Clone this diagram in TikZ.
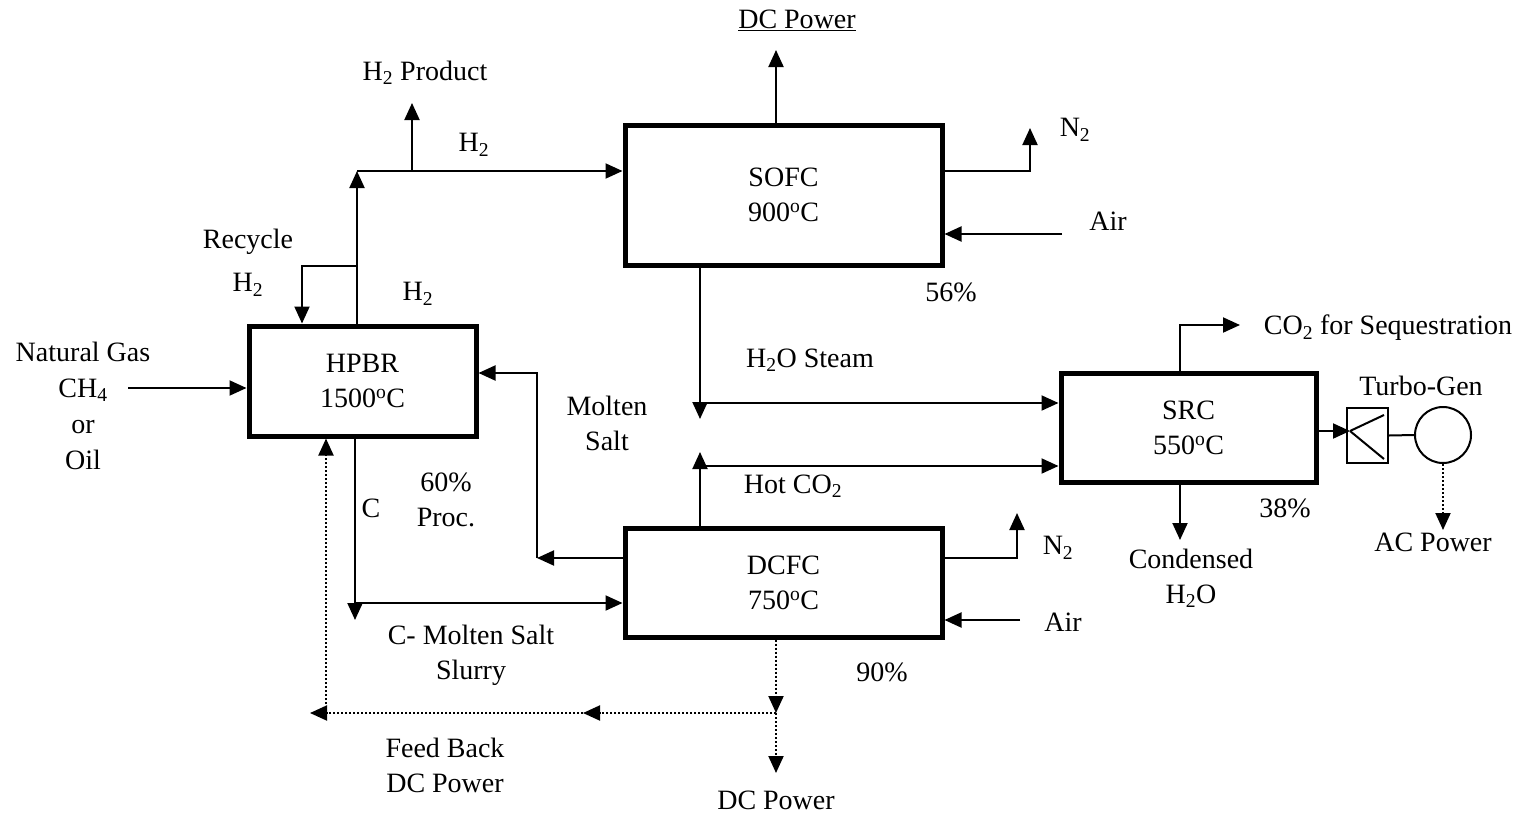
\documentclass[tikz,border=0pt]{standalone}
\usepackage{fontspec}
\setmainfont{Liberation Serif}
\usetikzlibrary{arrows.meta}
\newcommand{\dg}{\textsuperscript{o}}

\begin{document}
\begin{tikzpicture}[x=1pt, y=-1pt, font=\fontsize{28}{35}\selectfont,
  >={Triangle[length=17pt, width=15pt]}, line width=2pt,
  unit/.style={draw, line width=5pt, align=center, inner sep=0pt},
  lbl/.style={align=center, inner sep=0pt},
  dots/.style={dash pattern=on 2pt off 2pt}]
\useasboundingbox (0,0) rectangle (1528,814);
% process units
\node[unit, minimum width=317, minimum height=140] (sofc) at (783.5,195) {SOFC\\900\dg C};
\node[unit, minimum width=227, minimum height=110] (hpbr) at (362.5,381) {HPBR\\1500\dg C};
\node[unit, minimum width=255, minimum height=109] (src) at (1188.5,427.5) {SRC\\550\dg C};
\node[unit, minimum width=317, minimum height=109] (dcfc) at (783.5,582.5) {DCFC\\750\dg C};
\node[draw, minimum width=41, minimum height=55, inner sep=0pt] (tb) at (1367.5,435.5) {};
\node[draw, circle, minimum size=56, inner sep=0pt] (gen) at (1443,435) {};
% junctions and free ends
\coordinate (h2j) at (357,171);
\coordinate (prod) at (412,103);
\coordinate (recj) at (357,266);
\coordinate (recx) at (302,266);
\coordinate (ngin) at (128,388);
\coordinate (sdc) at (776,50);
\coordinate (sn2) at (1030,128);
\coordinate (sair) at (1062,234);
\coordinate (stm) at (700,419);
\coordinate (stmj) at (700,403);
\coordinate (co2) at (700,452);
\coordinate (co2j) at (700,466);
\coordinate (seq) at (1240,325);
\coordinate (cond) at (1180,540);
\coordinate (tbin) at (1350,431);
\coordinate (acp) at (1443,530);
\coordinate (dn2) at (1017,513);
\coordinate (dair) at (1020,620);
\coordinate (msr) at (537,558);
\coordinate (msin) at (537,373);
\coordinate (cs) at (355,620);
\coordinate (csj) at (355,603);
\coordinate (dcj) at (776,713);
\coordinate (dcout) at (776,773);
\coordinate (fbmid) at (583,713);
\coordinate (fbend) at (310,713);
\coordinate (fbup) at (326,712);
% flows
\draw[->] (hpbr.north -| h2j) -- (h2j);
\draw[->] (h2j) -- (sofc.west |- h2j);
\draw[->] (prod |- h2j) -- (prod);
\draw[->] (recj) -- (recx) -- (hpbr.north -| recx);
\draw[->] (ngin) -- (hpbr.west |- ngin);
\draw[->] (sofc.north -| sdc) -- (sdc);
\draw[->] (sofc.east |- h2j) -| (sn2);
\draw[->] (sair) -- (sofc.east |- sair);
\draw[->] (sofc.south -| stm) -- (stm);
\draw[->] (stmj) -- (src.west |- stmj);
\draw[->] (dcfc.north -| co2) -- (co2);
\draw[->] (co2j) -- (src.west |- co2j);
\draw[->] (src.north -| cond) |- (seq);
\draw[->] (src.south -| cond) -- (cond);
\draw[->] (src.east |- tbin) -- (tbin);
\draw (tbin) -- ([shift={(-5,8)}]tb.north east);
\draw (tbin) -- ([shift={(-5,-5)}]tb.south east);
\draw (tb.east) -- (gen.west);
\draw[->, dots] (gen.south) -- (acp);
\draw[->] (dcfc.east |- msr) -| (dn2);
\draw[->] (dair) -- (dcfc.east |- dair);
\draw[->] (dcfc.west |- msr) -- (msr);
\draw[->] (msr) -- (msin) -- (hpbr.east |- msin);
\draw[->] (hpbr.south -| cs) -- (cs);
\draw[->] (csj) -- (dcfc.west |- csj);
\draw[->, dots] (dcfc.south -| dcj) -- (dcj);
\draw[->, dots] (dcj) -- (dcout);
\draw[->, dots] (dcj) -- (fbmid);
\draw[->, dots] (fbmid) -- (fbend);
\draw[->, dots] (fbup) -- (hpbr.south -| fbup);
% labels
\node[lbl] (l1) at (797,20) {\underline{DC Power}};
\node[lbl] (l2) at (425,73) {H\textsubscript{2} Product};
\node[lbl] (l3) at (474,145) {H\textsubscript{2}};
\node[lbl] (l4) at (1075,130) {N\textsubscript{2}};
\node[lbl] (l5) at (1108,221) {Air};
\node[lbl] (l6) at (248,242) {Recycle};
\node[lbl] (l7) at (248,285) {H\textsubscript{2}};
\node[lbl] (l8) at (418,294) {H\textsubscript{2}};
\node[lbl] (l9) at (951,292) {56\%};
\node[lbl] (l10) at (1388,328) {CO\textsubscript{2} for Sequestration};
\node[lbl] (l11) at (810,360) {H\textsubscript{2}O Steam};
\node[lbl, font=\fontsize{28}{36}\selectfont] (l12) at (83,406) {Natural Gas\\CH\textsubscript{4}\\or\\Oil};
\node[lbl] (l13) at (1421,386) {Turbo-Gen};
\node[lbl] (l14) at (607,423) {Molten\\Salt};
\node[lbl] (l15) at (793,486) {Hot CO\textsubscript{2}};
\node[lbl] (l16) at (446,500) {60\%\\Proc.};
\node[lbl] (l17) at (371,508) {C};
\node[lbl] (l18) at (1285,508) {38\%};
\node[lbl] (l19) at (1433,542) {AC Power};
\node[lbl] (l20) at (1058,548) {N\textsubscript{2}};
\node[lbl] (l21) at (1191,578) {Condensed\\H\textsubscript{2}O};
\node[lbl] (l22) at (1063,622) {Air};
\node[lbl] (l23) at (471,655) {C- Molten Salt\\Slurry};
\node[lbl] (l24) at (882,672) {90\%};
\node[lbl] (l25) at (445,765) {Feed Back\\DC Power};
\node[lbl] (l26) at (776,800) {DC Power};
\end{tikzpicture}
\end{document}
